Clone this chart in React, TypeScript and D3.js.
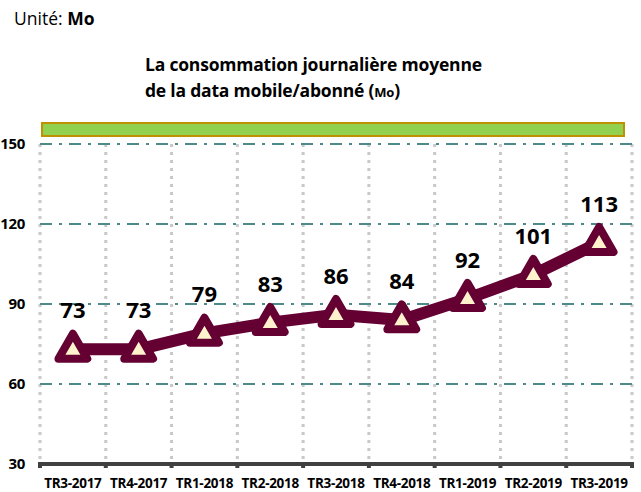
import React, { useEffect, useRef } from 'react'
import * as d3 from 'd3'

const quarters = ['TR3-2017', 'TR4-2017', 'TR1-2018', 'TR2-2018', 'TR3-2018', 'TR4-2018', 'TR1-2019', 'TR2-2019', 'TR3-2019']
const consumption = [73, 73, 79, 83, 86, 84, 92, 101, 113]
const yTicks = [30, 60, 90, 120, 150]

const W = 641
const H = 492
const font = "'Open Sans', 'DejaVu Sans', sans-serif"

const App = () => {
  const svgRef = useRef<SVGSVGElement>(null)

  useEffect(() => {
    const svg = d3.select(svgRef.current)
    svg.selectAll('*').remove()

    const x = d3.scaleBand().domain(quarters).range([40, 632])
    const y = d3.scaleLinear().domain([30, 150]).range([464, 144])
    const cx = (q: string) => (x(q) as number) + x.bandwidth() / 2

    // heading
    const unit = svg.append('text').attr('x', 14).attr('y', 25).attr('font-size', 17.5).attr('font-family', font)
    unit.append('tspan').text('Unité: ')
    unit.append('tspan').attr('font-weight', 'bold').text('Mo')

    svg.append('text').attr('x', 145).attr('y', 71).attr('font-size', 17.5).attr('font-weight', 'bold')
      .attr('font-family', font).attr('letter-spacing', -0.2).text('La consommation journalière moyenne')
    const t2 = svg.append('text').attr('x', 145).attr('y', 97).attr('font-size', 17.5).attr('font-weight', 'bold')
      .attr('font-family', font).attr('letter-spacing', -0.2)
    t2.append('tspan').text('de la data mobile/abonné (')
    t2.append('tspan').attr('font-size', 13).text('Mo')
    t2.append('tspan').text(')')

    // green band
    svg.append('rect').attr('x', 42).attr('y', 123).attr('width', 582).attr('height', 13)
      .attr('fill', '#92D050').attr('stroke', '#BF9000').attr('stroke-width', 2)

    // vertical grid
    const vx = quarters.map(q => x(q) as number).concat([x.range()[1]])
    svg.selectAll('.vgrid').data(vx).join('line').attr('class', 'vgrid')
      .attr('x1', d => d).attr('x2', d => d).attr('y1', 144).attr('y2', 464)
      .attr('stroke', '#C8C8C8').attr('stroke-width', 3).attr('stroke-dasharray', '3 5')

    // horizontal grid
    svg.selectAll('.hgrid').data(yTicks.filter(t => t > 30)).join('line').attr('class', 'hgrid')
      .attr('x1', 40).attr('x2', 632).attr('y1', d => y(d)).attr('y2', d => y(d))
      .attr('stroke', '#4F8A8B').attr('stroke-width', 2).attr('stroke-dasharray', '12 7 3 7')

    // x axis
    svg.append('line').attr('x1', 40).attr('x2', 632).attr('y1', 464).attr('y2', 464)
      .attr('stroke', '#404040').attr('stroke-width', 4)
    svg.selectAll('.xtick').data(vx).join('line').attr('class', 'xtick')
      .attr('x1', d => d).attr('x2', d => d).attr('y1', 462).attr('y2', 468)
      .attr('stroke', '#404040').attr('stroke-width', 4)
    svg.selectAll('.xlab').data(quarters).join('text').attr('class', 'xlab')
      .attr('x', d => cx(d)).attr('y', 488).attr('text-anchor', 'middle')
      .attr('font-size', 13.5).attr('font-weight', 'bold').attr('font-family', font)
      .attr('letter-spacing', -0.3).text(d => d)

    // y labels
    svg.selectAll('.ylab').data(yTicks).join('text').attr('class', 'ylab')
      .attr('x', 25).attr('y', d => y(d) + 5).attr('text-anchor', 'end')
      .attr('font-size', 15).attr('font-weight', 'bold').attr('font-family', font)
      .attr('letter-spacing', -0.3).text(d => d)

    // line
    const line = d3.line<number>().x((_, i) => cx(quarters[i])).y(d => y(d))
    svg.append('path').attr('d', line(consumption)).attr('fill', 'none')
      .attr('stroke', '#640032').attr('stroke-width', 12).attr('stroke-linejoin', 'round')

    const tri = d3.symbol().type(d3.symbolTriangle).size(360)
    svg.selectAll('.pt').data(consumption).join('path').attr('class', 'pt')
      .attr('transform', (d, i) => `translate(${cx(quarters[i])},${y(d) + 1})`)
      .attr('d', tri()).attr('fill', '#FFF2CC').attr('stroke', '#640032')
      .attr('stroke-width', 8).attr('stroke-linejoin', 'round')

    svg.selectAll('.val').data(consumption).join('text').attr('class', 'val')
      .attr('x', (d, i) => cx(quarters[i])).attr('y', d => y(d) - 31).attr('text-anchor', 'middle')
      .attr('font-size', 22).attr('font-weight', 'bold').attr('font-family', font).text(d => d)
  }, [])

  return <svg ref={svgRef} width={W} height={H} style={{ position: 'absolute', left: 0, top: 0, background: '#fff' }} />
}

export default App
